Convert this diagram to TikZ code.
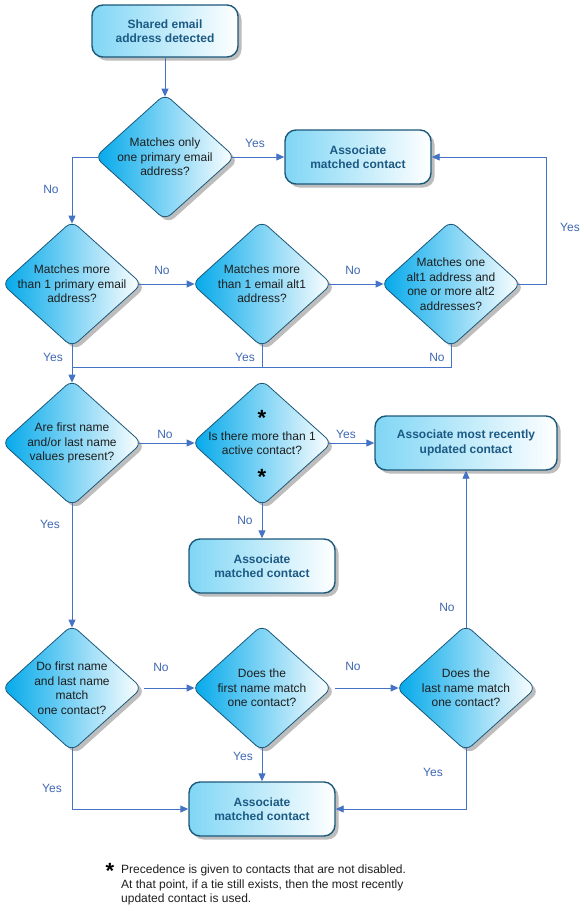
\documentclass[tikz,border=0pt]{standalone}
\usepackage{fontspec}
\setmainfont{Liberation Sans}
\usetikzlibrary{shapes.geometric,arrows.meta,shadows}

\definecolor{flowblue}{RGB}{68,114,196}
\definecolor{answerblue}{RGB}{62,103,178}
\definecolor{edgeblue}{RGB}{28,88,122}
\definecolor{boxtext}{RGB}{28,90,132}
\definecolor{qgray}{RGB}{30,30,30}
\definecolor{boxleft}{RGB}{128,214,245}
\definecolor{diamleft}{RGB}{0,168,234}
\newcommand{\flowfont}{\fontsize{12}{14.5}\selectfont}

\tikzset{
  box/.style={rectangle, rounded corners=11pt, draw=edgeblue, line width=1.4pt,
    left color=boxleft, right color=white, minimum width=146pt, minimum height=54pt,
    inner sep=0pt, align=center, text=boxtext, font=\flowfont\bfseries,
    drop shadow={shadow xshift=3.5pt, shadow yshift=-3.5pt, fill=black!26, opacity=1}},
  decision/.style={diamond, rounded corners=8pt, draw=edgeblue, line width=0.8pt,
    left color=diamleft, right color=white, minimum width=140pt, minimum height=126pt,
    inner sep=0pt,
    drop shadow={shadow xshift=3.5pt, shadow yshift=-3.5pt, fill=black!26, opacity=1}},
  qtext/.style={align=center, text=qgray, inner sep=0pt, font=\flowfont},
  flow/.style={draw=flowblue, line width=0.9pt, -{Triangle[length=8pt,width=7pt]}},
  link/.style={draw=flowblue, line width=0.9pt},
  answer/.style={text=answerblue, inner sep=0pt, font=\flowfont},
  astx/.style={inner sep=0pt, font=\fontsize{22}{22}\selectfont\bfseries},
}

\begin{document}
\begin{tikzpicture}[x=1pt,y=-1pt]
  \useasboundingbox (0,0) rectangle (584,911);

  %start
  \node[box, minimum height=52pt] (start) at (165,31) {Shared email\\address detected};

  %email address checks
  \node[decision, label={[qtext]center:{Matches only\\one primary email\\address?}}] (d1) at (165,157) {};
  \node[box] (m1) at (358,157) {Associate\\matched contact};
  \node[decision, label={[qtext]center:{Matches more\\than 1 primary email\\address?}}] (d2) at (72,284) {};
  \node[decision, label={[qtext]center:{Matches more\\than 1 email alt1\\address?}}] (d3) at (262,284) {};
  \node[decision, label={[qtext]center:{Matches one\\alt1 address and\\one or more alt2\\addresses?}}] (d4) at (451,284) {};
  \coordinate (merge) at (72,367);

  %name checks
  \node[decision, label={[qtext]center:{Are first name\\and/or last name\\values present?}}] (d5) at (72,443) {};
  \node[decision, label={[qtext]center:{Is there more than 1\\active contact?}}] (d6) at (262,443) {};
  \node[astx] (s1) at (262,418) {*};
  \node[astx] (s2) at (262,477) {*};
  \node[box, minimum width=182pt] (upd) at (466,443) {Associate most recently\\updated contact};
  \node[box] (m2) at (262,566) {Associate\\matched contact};

  \node[decision, label={[qtext]center:{Do first name\\and last name\\match\\one contact?}}] (d7) at (72,688) {};
  \node[decision, label={[qtext]center:{Does the\\first name match\\one contact?}}] (d8) at (262,688) {};
  \node[decision, label={[qtext]center:{Does the\\last name match\\one contact?}}] (d9) at (466,688) {};
  \node[box] (m3) at (262,809) {Associate\\matched contact};

  %connectors
  \draw[flow, shorten >=-3pt] (start) -- (d1.north);
  \draw[flow, shorten <=-3pt] (d1.east) -- (m1.west);
  \draw[flow, shorten <=-3pt, shorten >=-3pt] (d1.west) -| (d2.north);
  \draw[flow, shorten <=-3pt, shorten >=-3pt] (d2.east) -- (d3.west);
  \draw[flow, shorten <=-3pt, shorten >=-3pt] (d3.east) -- (d4.west);
  \draw[flow, shorten <=-3pt] (d4.east) -- ++(25,0) |- (m1.east);
  \draw[flow, shorten <=-3pt, shorten >=-3pt] (d2.south) -- (d5.north);
  \draw[link, shorten <=-3pt] (d3.south) |- (merge);
  \draw[link, shorten <=-3pt] (d4.south) |- (merge);

  \draw[flow, shorten <=-3pt, shorten >=-3pt] (d5.east) -- (d6.west);
  \draw[flow, shorten <=-3pt] (d6.east) -- (upd.west);
  \draw[flow, shorten <=-3pt] (d6.south) -- (m2.north);
  \draw[flow, shorten <=-3pt, shorten >=-3pt] (d5.south) -- (d7.north);

  \draw[flow, shorten <=2pt, shorten >=-3pt] (d7.east) -- (d8.west);
  \draw[flow, shorten <=3pt, shorten >=-3pt] (d8.east) -- (d9.west);
  \draw[flow, shorten <=-3pt] (d9.north) -- (upd.south);
  \draw[flow, shorten <=-3pt] (d8.south) -- (m3.north);
  \draw[flow, shorten <=-3pt] (d7.south) |- (m3.west);
  \draw[flow, shorten <=-3pt] (d9.south) |- (m3.east);

  %answers
  \node[answer] (a1) at (255,143) {Yes};
  \node[answer] (a2) at (51,189) {No};
  \node[answer] (a3) at (162,270) {No};
  \node[answer] (a4) at (353,270) {No};
  \node[answer] (a5) at (570,227) {Yes};
  \node[answer] (a6) at (53,357) {Yes};
  \node[answer] (a7) at (245,357) {Yes};
  \node[answer] (a8) at (437,357) {No};
  \node[answer] (a9) at (165,434) {No};
  \node[answer] (a10) at (346,434) {Yes};
  \node[answer] (a11) at (245,520) {No};
  \node[answer] (a12) at (50,524) {Yes};
  \node[answer] (a13) at (161,667) {No};
  \node[answer] (a14) at (353,666) {No};
  \node[answer] (a15) at (447,607) {No};
  \node[answer] (a16) at (243,756) {Yes};
  \node[answer] (a17) at (52,788) {Yes};
  \node[answer] (a18) at (433,772) {Yes};

  %footnote
  \node[astx] (s3) at (110,871) {*};
  \node[qtext, align=left, anchor=west] (note) at (121,885)
    {Precedence is given to contacts that are not disabled.\\At that point, if a tie still exists, then the most recently\\updated contact is used.};
\end{tikzpicture}
\end{document}
